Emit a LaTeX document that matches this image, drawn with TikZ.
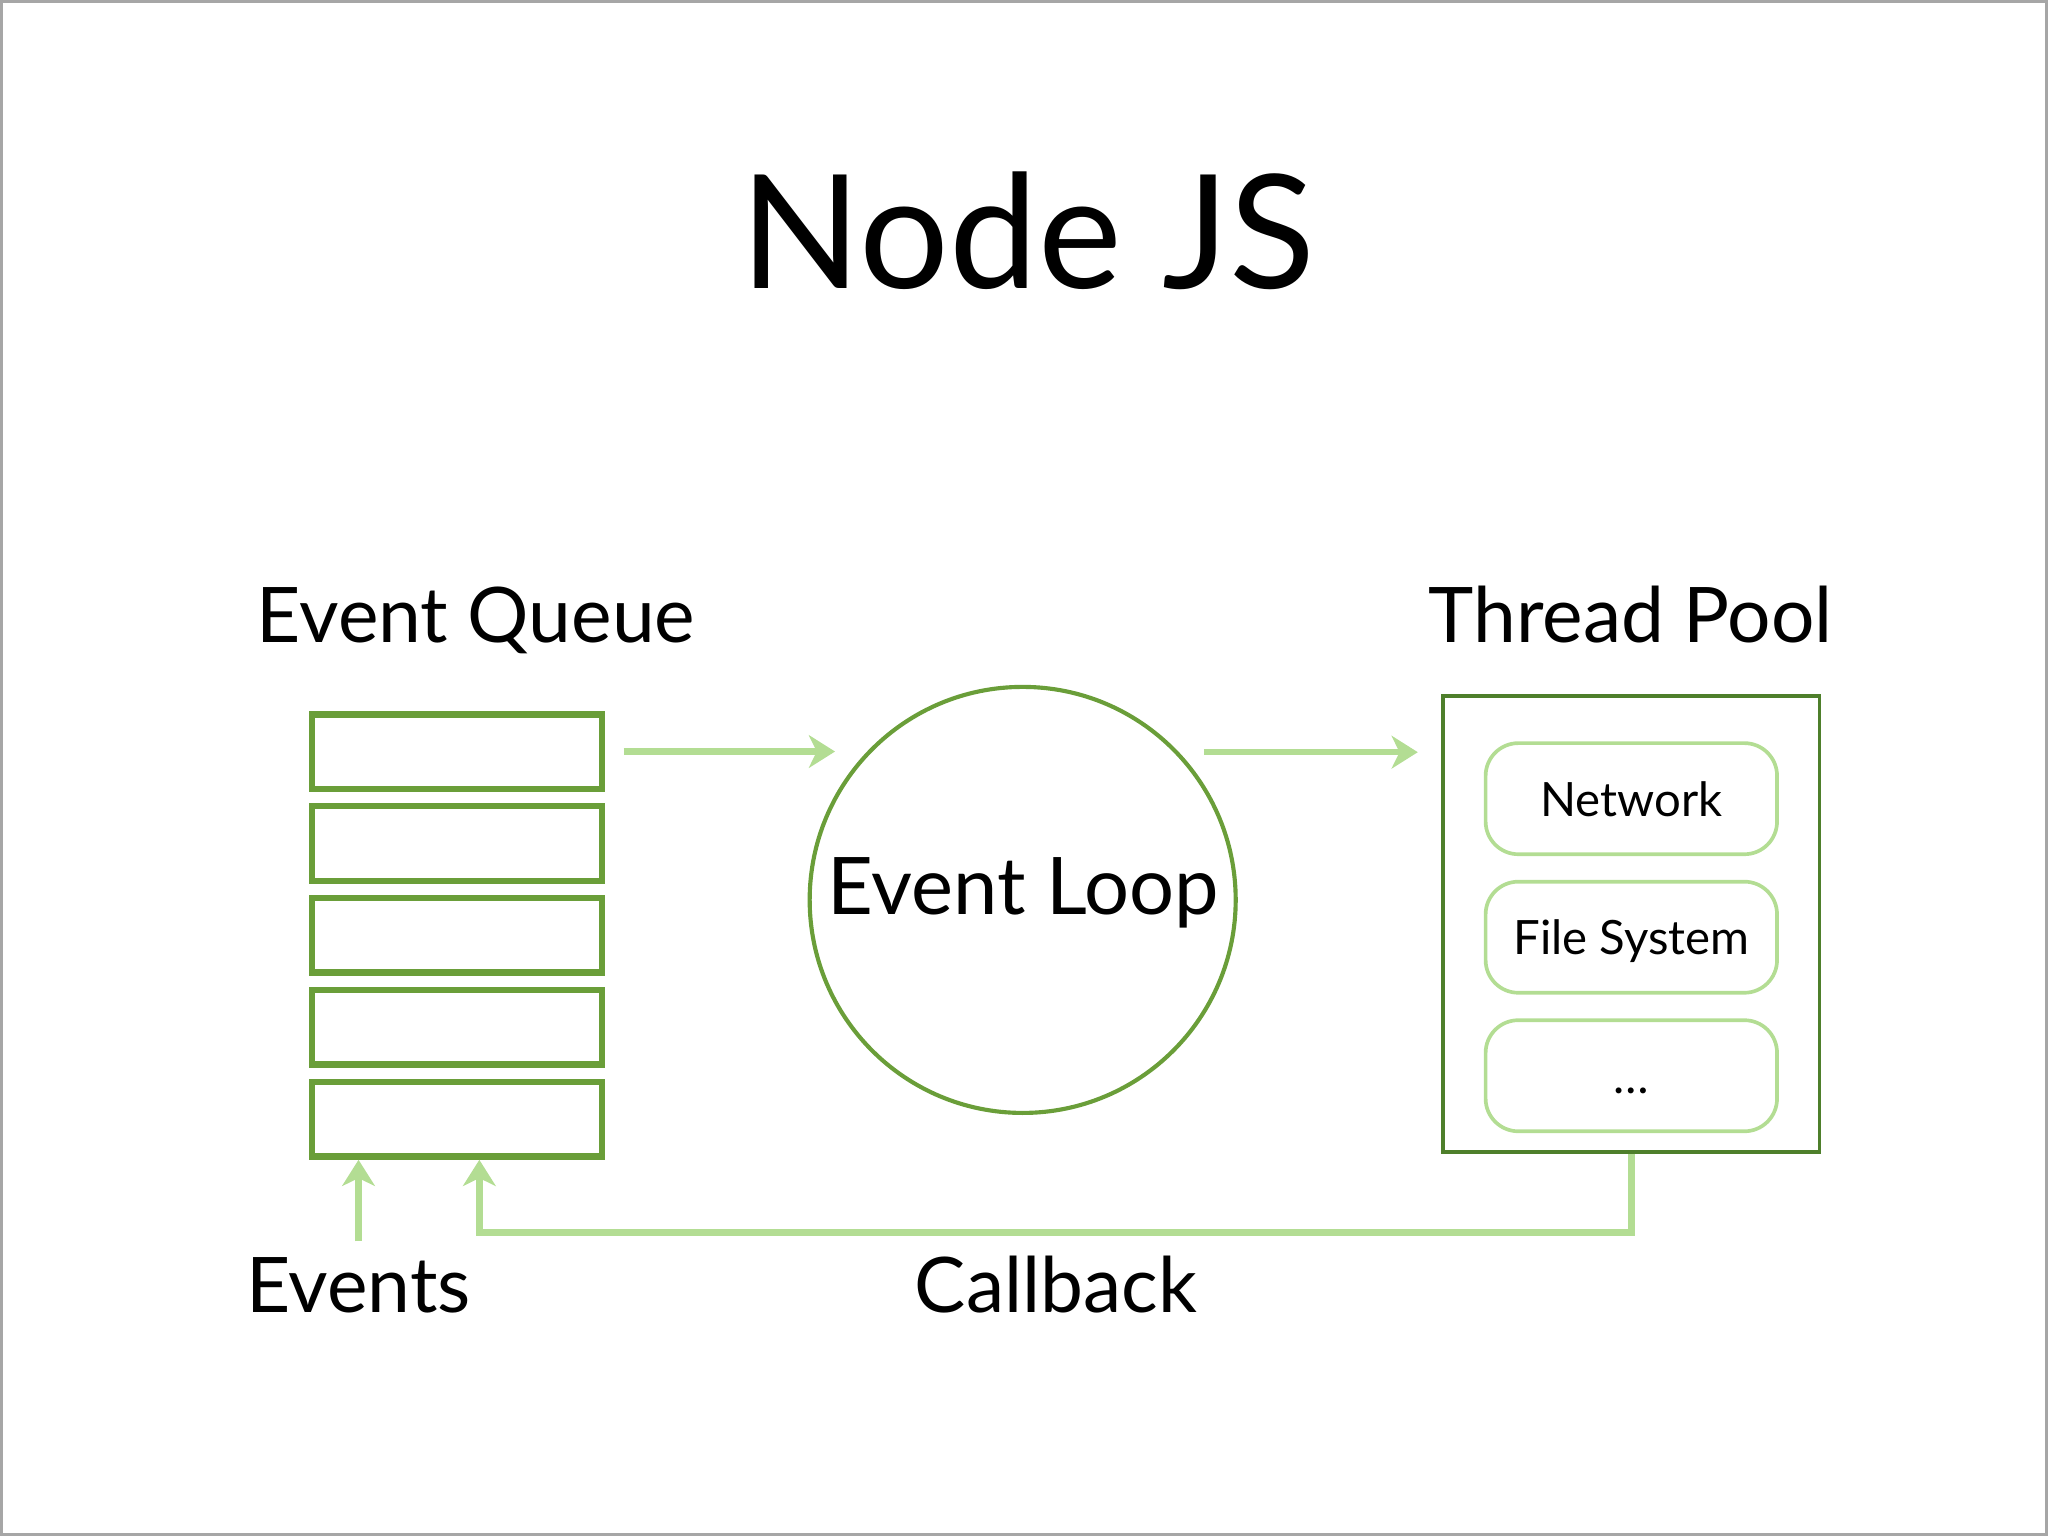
\documentclass[tikz,border=0pt]{standalone}
\usepackage{fontspec}
\setmainfont{Lato}
\usetikzlibrary{arrows.meta, calc, positioning}

\definecolor{queuegreen}{HTML}{6A9E39}
\definecolor{poolgreen}{HTML}{4E7F2B}
\definecolor{flowgreen}{HTML}{B3DD93}

\tikzset{
  slot/.style={draw=queuegreen, line width=1.4pt, minimum width=2.22cm,
    minimum height=0.57cm, inner sep=0pt},
  worker/.style={draw=flowgreen, line width=0.8pt, rounded corners=0.25cm,
    minimum width=2.23cm, minimum height=0.85cm, inner sep=0pt, outer sep=0pt,
    text height=0.27cm, text depth=0pt, font=\fontsize{10.3}{12}\selectfont},
  flow/.style={draw=flowgreen, line width=1.4pt,
    -{Stealth[length=0.2cm, width=0.25cm, inset=0.06cm, fill=flowgreen]}},
  heading/.style={anchor=base, font=\fontsize{16.7}{20}\selectfont},
}

\begin{document}
\begin{tikzpicture}[x=0.01cm, y=-0.01cm, line join=miter]
    % 1. Frame
    \useasboundingbox (0,0) rectangle (1568,1176);
    \draw[gray!70, line width=0.6pt] (1,1) rectangle (1567,1175);

    % 2. Title
    \node[anchor=base, font=\fontsize{34.5}{40}\selectfont] (title) at (787,221) {Node JS};

    % 3. Event queue (five slots)
    \foreach \i in {1,...,5}
        \node[slot] (q\i) at (350,{505+70.4*\i}) {};
    \node[heading] (queue) at (364.5,492) {Event Queue};

    % 4. Event loop
    \node[circle, draw=queuegreen, line width=0.9pt, minimum size=3.26cm,
        inner sep=0pt] (loop) at (783,689) {};
    \node[anchor=base, font=\fontsize{17.3}{20}\selectfont] (looptext) at (783.5,700) {Event Loop};

    % 5. Thread pool
    \node[draw=poolgreen, line width=0.8pt, minimum width=2.88cm,
        minimum height=3.49cm, inner sep=0pt] (pool) at (1249,707.5) {};
    \node[heading] (pooltitle) at (1248.5,492) {Thread Pool};
    \node[worker] (net) at (1249,611.5) {Network};
    \node[worker, below=0.21cm of net] (fs) {File System};
    \node[worker, below=0.21cm of fs] (more) {\ldots};

    % 6. Arrows
    \draw[flow] ($(q1.east)+(14,0)$) -- ($(loop.west |- q1.east)+(21,0)$); % queue -> loop
    \draw[flow] ($(loop.east |- q1.east)+(-26,0.5)$) -- ($(pool.west |- q1.east)+(-18,0.5)$); % loop -> pool
    \coordinate (back) at ($(q5.south)+(17,0)$);
    \draw[flow] (pool.south) -- ++(0,60) -| (back); % callback back to queue

    % 7. Bottom labels
    \node[heading] (events) at (274.5,1005) {Events};
    \node[heading] (callback) at (808.5,1005) {Callback};
    \draw[flow] (events.north) -- (events.north |- q5.south);
\end{tikzpicture}
\end{document}
